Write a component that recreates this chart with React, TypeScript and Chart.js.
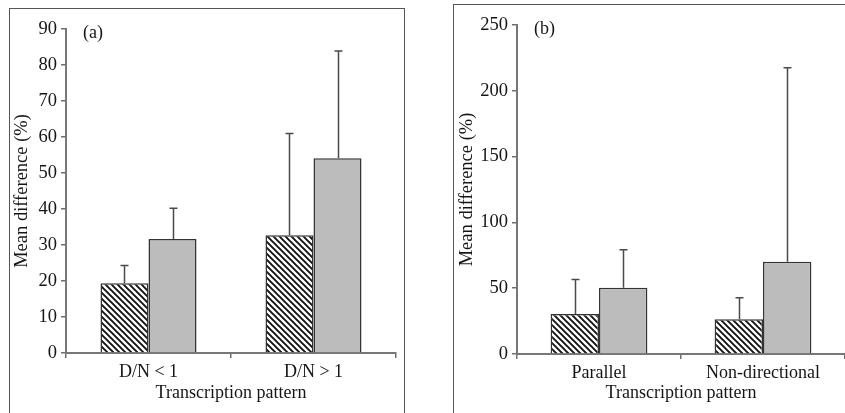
import React, { useEffect, useRef } from "react";
import { Chart, registerables } from "chart.js";

Chart.register(...registerables);

// ---- Data ----
const categoriesA = ["D/N < 1", "D/N > 1"];
const hatchedA = [19.4, 32.7];
const hatchedSdA = [4.9, 28.3];
const grayA = [31.7, 54.1];
const graySdA = [8.5, 29.8];
const yMaxA = 90;
const yStepA = 10;

const categoriesB = ["Parallel", "Non-directional"];
const hatchedB = [30.4, 26.4];
const hatchedSdB = [26.3, 16.4];
const grayB = [50.4, 70.1];
const graySdB = [28.9, 147.5];
const yMaxB = 250;
const yStepB = 50;

const xTitle = "Transcription pattern";
const yTitle = "Mean difference (%)";

const FONT = "'Liberation Serif', 'Times New Roman', serif";
const TEXT = "#151515";

function makeHatch(): CanvasPattern | string {
  const c = document.createElement("canvas");
  c.width = 6;
  c.height = 6;
  const ctx = c.getContext("2d");
  if (!ctx) return "#444";
  ctx.fillStyle = "#fff";
  ctx.fillRect(0, 0, 6, 6);
  ctx.strokeStyle = "#111";
  ctx.lineWidth = 1.9;
  ctx.beginPath();
  ctx.moveTo(-1, -1);
  ctx.lineTo(7, 7);
  ctx.moveTo(-1, 5);
  ctx.lineTo(1, 7);
  ctx.moveTo(5, -1);
  ctx.lineTo(7, 1);
  ctx.stroke();
  const p = ctx.createPattern(c, "repeat");
  return p || "#444";
}

type PanelProps = {
  left: number;
  top: number;
  width: number;
  height: number;
  label: string;
  categories: string[];
  hatched: number[];
  hatchedSd: number[];
  gray: number[];
  graySd: number[];
  yMax: number;
  yStep: number;
  yAxisWidth: number;
  xAxisHeight: number;
  padRight: number;
  yTitlePad: number;
  catPct: number;
};

function Panel(props: PanelProps) {
  const ref = useRef<HTMLCanvasElement | null>(null);
  useEffect(() => {
    if (!ref.current) return;
    const sds = [props.hatchedSd, props.graySd];
    const errorPlugin = {
      id: "errs",
      afterDatasetsDraw(chart: any) {
        const ctx = chart.ctx;
        const ys = chart.scales.y;
        ctx.save();
        ctx.strokeStyle = "#4a4a4a";
        ctx.lineWidth = 1.5;
        chart.data.datasets.forEach((ds: any, di: number) => {
          const meta = chart.getDatasetMeta(di);
          meta.data.forEach((el: any, i: number) => {
            const v = ds.data[i];
            const top = ys.getPixelForValue(v + sds[di][i]);
            const x = Math.round(el.x) + 0.5;
            ctx.beginPath();
            ctx.moveTo(x, el.y);
            ctx.lineTo(x, top);
            ctx.moveTo(x - 4, top);
            ctx.lineTo(x + 4, top);
            ctx.stroke();
          });
        });
        ctx.fillStyle = TEXT;
        ctx.font = `18px ${FONT}`;
        ctx.textAlign = "left";
        ctx.textBaseline = "middle";
        ctx.fillText(props.label, chart.chartArea.left + 17, chart.chartArea.top + 4);
        ctx.restore();
      },
    };
    const hatch = makeHatch();
    const chart = new Chart(ref.current, {
      type: "bar",
      data: {
        labels: props.categories,
        datasets: [
          {
            data: props.hatched,
            backgroundColor: hatch as any,
            borderColor: "#333",
            borderWidth: 1.5,
            barPercentage: 1,
            categoryPercentage: props.catPct,
          },
          {
            data: props.gray,
            backgroundColor: "#bcbcbc",
            borderColor: "#333",
            borderWidth: 1.5,
            barPercentage: 1,
            categoryPercentage: props.catPct,
          },
        ],
      },
      options: {
        responsive: false,
        animation: false,
        layout: { padding: { top: 21, right: props.padRight, left: 0, bottom: 0 } },
        plugins: { legend: { display: false }, tooltip: { enabled: false } },
        scales: {
          x: {
            afterFit: (s: any) => {
              s.height = props.xAxisHeight;
            },
            grid: {
              drawOnChartArea: false,
              drawTicks: true,
              tickLength: 5,
              color: "#6e6e6e",
              lineWidth: 1.5,
            },
            border: { color: "#777", width: 2 },
            ticks: { font: { family: FONT, size: 18 }, color: TEXT, padding: 3 },
            title: {
              display: true,
              text: xTitle,
              font: { family: FONT, size: 18 },
              color: TEXT,
              padding: { top: 0, bottom: 9 },
            },
          },
          y: {
            min: 0,
            max: props.yMax,
            afterFit: (s: any) => {
              s.width = props.yAxisWidth;
            },
            grid: {
              drawOnChartArea: false,
              drawTicks: true,
              tickLength: 5,
              color: "#6e6e6e",
              lineWidth: 1.5,
            },
            border: { color: "#777", width: 2 },
            ticks: {
              stepSize: props.yStep,
              font: { family: FONT, size: 18.5 },
              color: TEXT,
              padding: 4,
            },
            title: {
              display: true,
              text: yTitle,
              font: { family: FONT, size: 18.5 },
              color: TEXT,
              padding: { top: props.yTitlePad, bottom: 0 },
            },
          },
        },
      },
      plugins: [errorPlugin],
    });
    return () => chart.destroy();
  }, []);
  return (
    <div
      style={{
        position: "absolute",
        left: props.left,
        top: props.top,
        width: props.width,
        height: props.height + 20,
        border: "1.5px solid #555",
        boxSizing: "border-box",
      }}
    >
      <canvas
        ref={ref}
        width={props.width}
        height={props.height}
        style={{ position: "absolute", left: -1.5, top: -1.5, width: props.width, height: props.height }}
      />
    </div>
  );
}

export default function App() {
  return (
    <div
      style={{
        position: "absolute",
        left: 0,
        top: 0,
        width: 845,
        height: 413,
        overflow: "hidden",
        background: "#fff",
      }}
    >
      <Panel
        left={9}
        top={8}
        width={396}
        height={405}
        label="(a)"
        categories={categoriesA}
        hatched={hatchedA}
        hatchedSd={hatchedSdA}
        gray={grayA}
        graySd={graySdA}
        yMax={yMaxA}
        yStep={yStepA}
        yAxisWidth={57}
        xAxisHeight={60}
        padRight={9}
        yTitlePad={2}
        catPct={0.582}
      />
      <Panel
        left={453}
        top={4}
        width={400}
        height={409}
        label="(b)"
        categories={categoriesB}
        hatched={hatchedB}
        hatchedSd={hatchedSdB}
        gray={grayB}
        graySd={graySdB}
        yMax={yMaxB}
        yStep={yStepB}
        yAxisWidth={64}
        xAxisHeight={59}
        padRight={8}
        yTitlePad={3}
        catPct={0.59}
      />
    </div>
  );
}
